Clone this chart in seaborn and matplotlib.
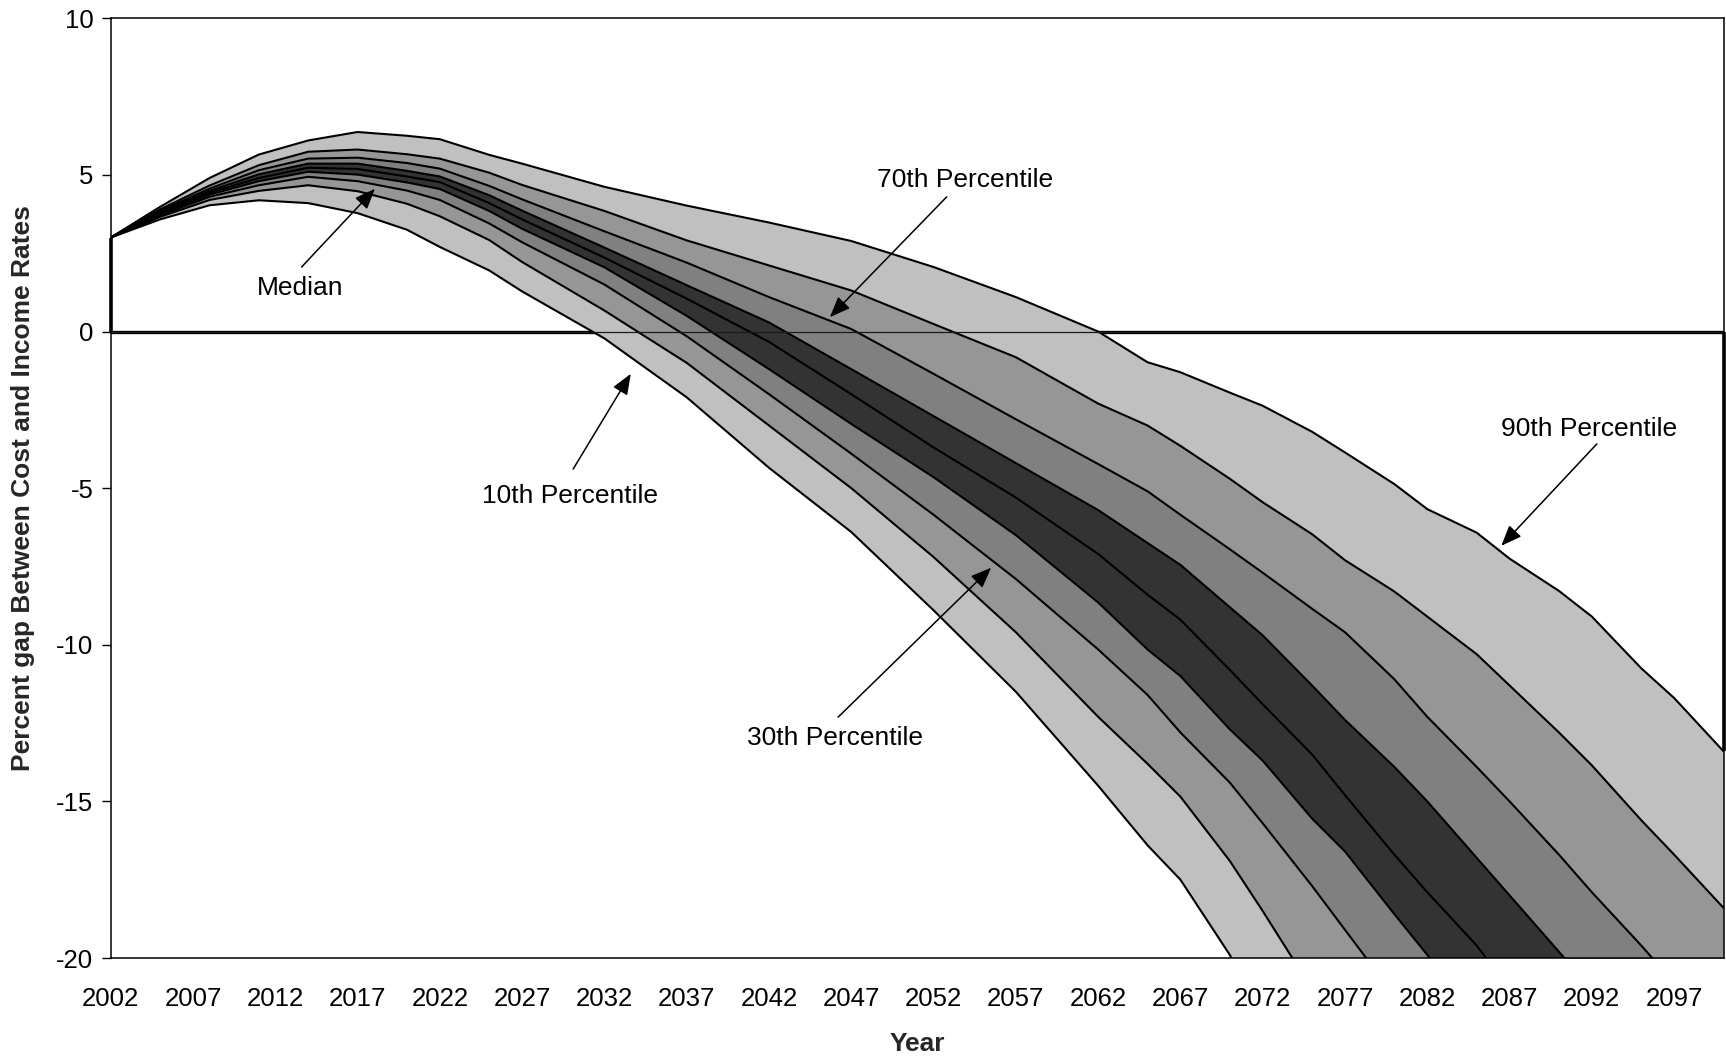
import matplotlib
matplotlib.use("Agg")
import matplotlib.pyplot as plt
import numpy as np
import pandas as pd
import seaborn as sns

# Projection years (sampled points of the stochastic projection)
years = [2002, 2005, 2008, 2011, 2014, 2017, 2020, 2022, 2025, 2027, 2032, 2037,
         2042, 2047, 2052, 2057, 2062, 2065, 2067, 2070, 2072, 2075, 2077, 2080,
         2082, 2085, 2087, 2090, 2092, 2095, 2097, 2100]

# Percentile paths of the gap between cost and income rates (percent)
p10 = [3.0, 3.58, 4.03, 4.19, 4.10, 3.78, 3.25, 2.70, 1.95, 1.28, -0.22, -2.10,
       -4.35, -6.40, -8.90, -11.50, -14.50, -16.40, -17.50, -19.90, -22.0, -24.0, -25.0, -27.0,
       -28.5, -30.5, -32.0, -34.0, -35.5, -37.5, -39.0, -41.0]
p20 = [3.0, 3.66, 4.20, 4.49, 4.67, 4.48, 4.08, 3.68, 2.92, 2.22, 0.67, -1.00,
       -3.00, -5.00, -7.20, -9.60, -12.30, -13.80, -14.85, -16.90, -18.50, -21.0, -22.3, -24.5,
       -26.0, -28.0, -29.5, -31.5, -33.0, -35.0, -36.5, -38.5]
p30 = [3.0, 3.71, 4.30, 4.67, 4.94, 4.80, 4.50, 4.20, 3.45, 2.85, 1.50, -0.15,
       -2.00, -3.90, -5.85, -7.90, -10.15, -11.60, -12.80, -14.40, -15.70, -17.70, -19.10, -21.2,
       -22.6, -24.5, -26.0, -28.0, -29.5, -31.5, -33.0, -35.0]
p40 = [3.0, 3.75, 4.37, 4.80, 5.10, 5.01, 4.76, 4.55, 3.85, 3.28, 2.05, 0.50,
       -1.20, -2.95, -4.65, -6.50, -8.65, -10.15, -11.00, -12.70, -13.70, -15.55, -16.60, -18.60,
       -19.90, -22.0, -23.2, -25.2, -26.5, -28.6, -30.0, -32.0]
p50 = [3.0, 3.78, 4.43, 4.90, 5.23, 5.19, 4.95, 4.77, 4.10, 3.58, 2.36, 1.05,
       -0.33, -2.00, -3.70, -5.30, -7.10, -8.40, -9.20, -10.80, -11.90, -13.50, -14.80, -16.70,
       -17.90, -19.6, -21.0, -23.0, -24.3, -26.3, -27.6, -29.6]
p60 = [3.0, 3.81, 4.49, 5.02, 5.36, 5.36, 5.13, 4.95, 4.35, 3.86, 2.68, 1.48,
       0.29, -1.20, -2.70, -4.20, -5.70, -6.75, -7.45, -8.80, -9.70, -11.30, -12.40, -13.90,
       -15.00, -16.8, -18.0, -19.8, -21.0, -22.9, -24.2, -26.2]
p70 = [3.0, 3.85, 4.56, 5.15, 5.52, 5.55, 5.38, 5.20, 4.65, 4.22, 3.20, 2.20,
       1.10, 0.08, -1.35, -2.80, -4.23, -5.10, -5.85, -6.95, -7.70, -8.85, -9.60, -11.10,
       -12.30, -13.9, -15.0, -16.7, -17.9, -19.6, -20.8, -22.6]
p80 = [3.0, 3.90, 4.66, 5.31, 5.74, 5.81, 5.66, 5.52, 5.07, 4.68, 3.85, 2.91,
       2.11, 1.31, 0.24, -0.82, -2.30, -3.00, -3.65, -4.70, -5.45, -6.47, -7.30, -8.30,
       -9.10, -10.3, -11.3, -12.8, -13.85, -15.6, -16.70, -18.40]
p90 = [3.0, 3.98, 4.90, 5.65, 6.10, 6.37, 6.25, 6.14, 5.64, 5.36, 4.62, 4.02,
       3.48, 2.89, 2.06, 1.10, 0.00, -0.98, -1.30, -1.95, -2.37, -3.20, -3.86, -4.87,
       -5.67, -6.42, -7.25, -8.28, -9.10, -10.75, -11.70, -13.40]

percentiles = [10, 20, 30, 40, 50, 60, 70, 80, 90]
paths = [p10, p20, p30, p40, p50, p60, p70, p80, p90]

# Fill shade of each band between neighbouring percentile paths
band_colors = ["#C0C0C0", "#969696", "#808080", "#333333",
               "#333333", "#808080", "#969696", "#C0C0C0"]

xtick_years = list(range(2002, 2098, 5))
yticks = [-20, -15, -10, -5, 0, 5, 10]

long_df = pd.DataFrame({
    "year": np.tile(years, len(paths)),
    "value": np.concatenate(paths),
    "pct": np.repeat(percentiles, len(years)),
})

sns.set_style("white")
plt.rcParams["font.family"] = ["Liberation Sans", "DejaVu Sans"]
plt.rcParams["axes.unicode_minus"] = False

fig = plt.figure(figsize=(17.26, 10.59), dpi=100)
ax = fig.add_axes([0.06414, 0.09537, 0.93442, 0.88735])

# Border of the unshaded region along the zero baseline
ax.axhline(0, color="black", lw=2.4, zorder=0.5)

for lo, hi, col in zip(paths[:-1], paths[1:], band_colors):
    ax.fill_between(years, lo, hi, color=col, lw=0, zorder=1)

sns.lineplot(data=long_df, x="year", y="value", hue="pct",
             palette=["black"] * len(percentiles), legend=False,
             lw=1.5, ax=ax, zorder=2, sort=True)

# Vertical edges of the shaded region at both ends of the projection
ax.vlines(years[0], 0, p10[0], color="black", lw=2.6, zorder=3, clip_on=False)
ax.vlines(years[-1], p90[-1], 0, color="black", lw=2.6, zorder=3, clip_on=False)

# Horizontal axis line crossing at zero
ax.axhline(0, color="#1a1a1a", lw=0.9, zorder=4)

ax.set_xlim(years[0], years[-1])
ax.set_ylim(-20, 10)
ax.set_xticks(xtick_years)
ax.set_xticklabels([str(y) for y in xtick_years])
ax.set_yticks(yticks)
ax.set_yticklabels([str(v) for v in yticks])

ax.tick_params(axis="x", length=0, pad=21, labelsize=18.5, colors="black")
ax.tick_params(axis="y", left=True, length=6.5, width=1.0, pad=6,
               labelsize=18.5, direction="out", colors="black")

for side in ["left", "right", "top", "bottom"]:
    ax.spines[side].set_visible(True)
    ax.spines[side].set_color("black")
    ax.spines[side].set_linewidth(1.1)
    ax.spines[side].set_zorder(5)

ax.set_xlabel("Year", fontsize=19, fontweight="bold")
ax.set_ylabel("Percent gap Between Cost and Income Rates", fontsize=19,
              fontweight="bold")
ax.xaxis.set_label_coords(0.5, -0.079)
ax.yaxis.set_label_coords(-0.047, 0.5)

# Callouts: label position, arrow tail, arrow tip
callouts = [
    ("Median", (2013.54, 1.39), (2013.6, 2.06), (2018.06, 4.56)),
    ("70th Percentile", (2053.9, 4.84), (2052.8, 4.30), (2045.7, 0.46)),
    ("10th Percentile", (2029.9, -5.26), (2030.1, -4.39), (2033.6, -1.35)),
    ("30th Percentile", (2046.0, -12.97), (2046.2, -12.31), (2055.5, -7.54)),
    ("90th Percentile", (2091.8, -3.11), (2092.3, -3.59), (2086.5, -6.84)),
]
for label, pos, tail, tip in callouts:
    ax.text(pos[0], pos[1], label, ha="center", va="center", fontsize=19,
            color="black", zorder=6)
    ax.annotate("", xy=tip, xytext=tail, zorder=6,
                arrowprops=dict(arrowstyle="-|>,head_length=0.45,head_width=0.18",
                                color="black", lw=1.1, mutation_scale=28,
                                shrinkA=0, shrinkB=0))

fig.savefig("out.png", dpi=100)
